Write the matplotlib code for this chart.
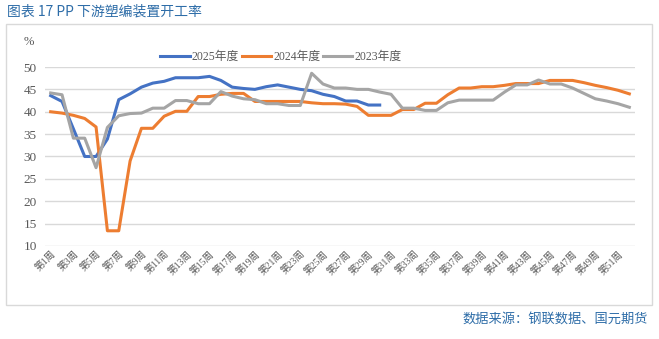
import matplotlib
matplotlib.use("Agg")
import matplotlib.pyplot as plt
from matplotlib.patches import Rectangle

weeks = [f"第{i}周" for i in range(1, 53)]

y2025 = [43.6, 42.3, 36.2, 30.0, 30.0, 33.9, 42.7, 44.0, 45.5, 46.4, 46.8, 47.6, 47.6, 47.6,
         47.9, 47.0, 45.5, 45.2, 45.0, 45.6, 46.0, 45.5, 45.0, 44.7, 43.9, 43.4, 42.4, 42.4,
         41.5, 41.5]
y2024 = [40.0, 39.7, 39.2, 38.5, 36.6, 13.4, 13.4, 29.0, 36.3, 36.3, 39.0, 40.1, 40.1, 43.4,
         43.4, 43.9, 44.1, 44.1, 42.3, 42.3, 42.3, 42.3, 42.3, 42.0, 41.8, 41.8, 41.7, 41.2,
         39.2, 39.2, 39.2, 40.5, 40.5, 41.9, 41.9, 43.8, 45.3, 45.3, 45.6, 45.6, 45.9, 46.3,
         46.3, 46.3, 47.0, 47.0, 47.0, 46.5, 45.9, 45.4, 44.8, 44.0]
y2023 = [44.2, 43.8, 34.1, 34.1, 27.5, 36.5, 39.1, 39.6, 39.7, 40.8, 40.8, 42.5, 42.5, 41.8,
         41.8, 44.5, 43.5, 42.9, 42.7, 41.8, 41.8, 41.4, 41.4, 48.6, 46.2, 45.3, 45.3, 45.0,
         45.0, 44.4, 43.9, 40.8, 40.8, 40.3, 40.3, 42.0, 42.6, 42.6, 42.6, 42.6, 44.4, 46.0,
         46.0, 47.1, 46.2, 46.2, 45.3, 44.1, 42.9, 42.4, 41.8, 41.0]
series_names = ["2025年度", "2024年度", "2023年度"]
yticks = [10, 15, 20, 25, 30, 35, 40, 45, 50]

W, H = 659, 339
fig = plt.figure(figsize=(W / 100, H / 100), dpi=100)
fig.patch.set_facecolor("white")

cjk = ["Noto Sans CJK SC", "DejaVu Sans"]
serif_cjk = ["Liberation Serif", "Noto Sans CJK SC"]

# chart border box
fig.add_artist(Rectangle((6 / W, 1 - 305 / H), (652 - 6) / W, (305 - 24) / H,
                         transform=fig.transFigure, fill=False, edgecolor="#D9D9D9", lw=1))

fig.text(7 / W, 1 - 12 / H, "图表 17 PP 下游塑编装置开工率", family=cjk, fontsize=10,
         color="#2E6DA8", va="center", ha="left")
fig.text(648 / W, 1 - 320 / H, "数据来源：钢联数据、国元期货", family=cjk, fontsize=9.5,
         color="#2E6DA8", va="center", ha="right")
fig.text(29 / W, 1 - 42 / H, "%", family=serif_cjk, fontsize=9, color="#595959",
         va="center", ha="center")

ax = fig.add_axes([45 / W, 1 - 246 / H, (635 - 45) / W, (246 - 67) / H])
x = list(range(len(weeks)))
colors = ["#4472C4", "#ED7D31", "#A5A5A5"]
for data, c, name in zip([y2025, y2024, y2023], colors, series_names):
    ax.plot(x[:len(data)], data, color=c, lw=2.2, label=name, solid_joinstyle="round")

ax.set_xlim(-0.5, len(weeks) - 0.5)
ax.set_ylim(10, 50)
ax.set_yticks(yticks)
ax.set_yticklabels([str(v) for v in yticks], family=serif_cjk, fontsize=9.5, color="#595959")
ax.grid(axis="y", color="#D9D9D9", lw=1)
ax.set_axisbelow(True)
for s in ax.spines.values():
    s.set_visible(False)
ax.tick_params(axis="y", length=0, pad=6)
ax.tick_params(axis="x", length=0, pad=2)
ax.set_xticks(x[::2])
ax.set_xticklabels(weeks[::2], rotation=45, ha="right", va="top", rotation_mode="anchor",
                   family=serif_cjk, fontsize=7, color="#595959")

leg = ax.legend(loc="center", bbox_to_anchor=(0.40, 1.056), ncol=3, frameon=False,
                prop={"family": serif_cjk, "size": 8.5}, handlelength=2.5,
                columnspacing=0.2, handletextpad=0.2, borderaxespad=0)
for t in leg.get_texts():
    t.set_color("#595959")

fig.savefig("out.png", dpi=100, facecolor="white")
